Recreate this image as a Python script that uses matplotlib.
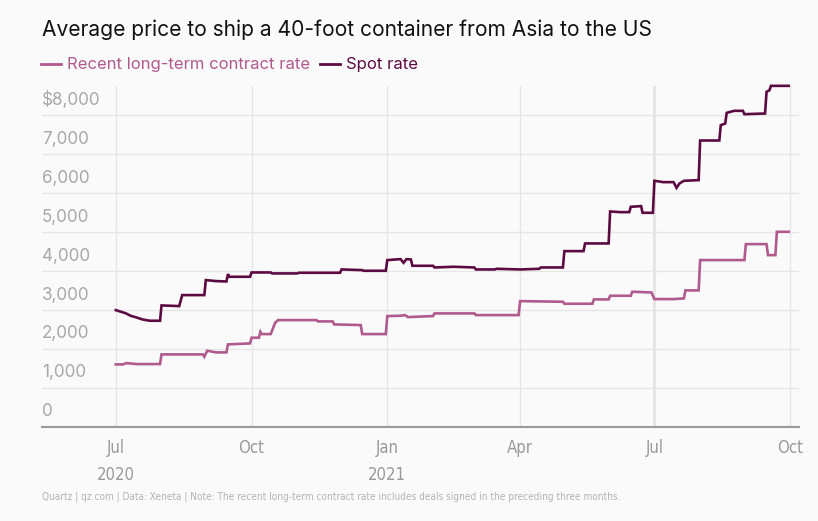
import datetime as dt

import matplotlib
matplotlib.use("Agg")
import matplotlib.dates as mdates
import matplotlib.pyplot as plt
from matplotlib import font_manager
from matplotlib.font_manager import FontProperties
from matplotlib.lines import Line2D

# Spot rate, USD per 40-foot container
spot_dates = [
    "2020-07-01", "2020-07-08", "2020-07-11", "2020-07-15", "2020-07-19", "2020-07-24",
    "2020-07-31", "2020-08-01", "2020-08-13", "2020-08-15", "2020-08-30", "2020-08-31",
    "2020-09-07", "2020-09-14", "2020-09-15", "2020-09-16", "2020-09-30", "2020-10-01",
    "2020-10-14", "2020-10-15", "2020-11-01", "2020-11-02", "2020-11-30", "2020-12-01",
    "2020-12-15", "2020-12-16", "2020-12-31", "2021-01-01", "2021-01-10", "2021-01-12",
    "2021-01-14", "2021-01-17", "2021-01-18", "2021-02-01", "2021-02-02", "2021-02-15",
    "2021-03-01", "2021-03-02", "2021-03-15", "2021-03-16", "2021-04-01", "2021-04-14",
    "2021-04-15", "2021-04-30", "2021-05-01", "2021-05-14", "2021-05-15", "2021-05-31",
    "2021-06-01", "2021-06-08", "2021-06-14", "2021-06-15", "2021-06-22", "2021-06-23",
    "2021-06-30", "2021-07-01", "2021-07-07", "2021-07-14", "2021-07-16", "2021-07-18",
    "2021-07-21", "2021-07-31", "2021-08-01", "2021-08-14", "2021-08-15", "2021-08-18",
    "2021-08-19", "2021-08-24", "2021-08-30", "2021-08-31", "2021-09-14", "2021-09-15",
    "2021-09-17", "2021-09-18", "2021-09-30",
]
spot_values = [
    2991, 2906, 2846, 2803, 2752, 2718,
    2718, 3111, 3094, 3376, 3376, 3761,
    3735, 3726, 3915, 3846, 3846, 3957,
    3957, 3932, 3932, 3949, 3949, 4034,
    4017, 4000, 4000, 4274, 4299, 4205,
    4299, 4290, 4128, 4128, 4085, 4103,
    4085, 4034, 4034, 4051, 4034, 4051,
    4085, 4085, 4504, 4504, 4701, 4701,
    5521, 5504, 5504, 5641, 5658, 5487,
    5487, 6308, 6274, 6274, 6128, 6239,
    6308, 6325, 7342, 7342, 7735, 7778,
    8051, 8103, 8103, 8017, 8034, 8590,
    8632, 8744, 8744,
]

# Recent long-term contract rate
contract_dates = [
    "2020-07-01", "2020-07-06", "2020-07-08", "2020-07-15", "2020-07-31", "2020-08-01",
    "2020-08-29", "2020-08-30", "2020-09-01", "2020-09-07", "2020-09-14", "2020-09-15",
    "2020-09-30", "2020-10-01", "2020-10-06", "2020-10-07", "2020-10-08", "2020-10-14",
    "2020-10-17", "2020-10-19", "2020-11-14", "2020-11-15", "2020-11-25", "2020-11-26",
    "2020-12-14", "2020-12-15", "2020-12-31", "2021-01-01", "2021-01-10", "2021-01-13",
    "2021-01-15", "2021-02-01", "2021-02-02", "2021-03-01", "2021-03-02", "2021-03-31",
    "2021-04-01", "2021-04-30", "2021-05-01", "2021-05-20", "2021-05-21", "2021-05-31",
    "2021-06-01", "2021-06-15", "2021-06-16", "2021-06-29", "2021-07-01", "2021-07-14",
    "2021-07-21", "2021-07-22", "2021-07-31", "2021-08-01", "2021-08-31", "2021-09-01",
    "2021-09-15", "2021-09-16", "2021-09-21", "2021-09-22", "2021-09-30",
]
contract_values = [
    1598, 1598, 1632, 1607, 1607, 1855,
    1855, 1795, 1949, 1906, 1906, 2111,
    2137, 2282, 2282, 2436, 2376, 2376,
    2667, 2735, 2735, 2701, 2701, 2624,
    2607, 2376, 2376, 2838, 2846, 2863,
    2812, 2838, 2906, 2906, 2863, 2863,
    3222, 3205, 3154, 3154, 3265, 3265,
    3359, 3359, 3462, 3444, 3274, 3274,
    3291, 3496, 3496, 4274, 4274, 4684,
    4684, 4402, 4402, 5000, 5000,
]

y_ticks = [0, 1000, 2000, 3000, 4000, 5000, 6000, 7000, 8000]
y_labels = ["0", "1,000", "2,000", "3,000", "4,000", "5,000", "6,000", "7,000", "$8,000"]
x_ticks = ["2020-07-01", "2020-10-01", "2021-01-01", "2021-04-01", "2021-07-01", "2021-10-01"]
x_labels = ["Jul\n2020", "Oct", "Jan\n2021", "Apr", "Jul", "Oct"]

CONTRACT_COLOR = "#b05a8e"
SPOT_COLOR = "#5c0a42"
BG = "#fafafa"


def to_dates(items):
    return [dt.datetime.strptime(s, "%Y-%m-%d") for s in items]


# a condensed face, if one is installed, for the tick labels and the footer
condensed = None
for f in font_manager.fontManager.ttflist:
    if ("Condensed" in f.fname or "Narrow" in f.fname) and "Bold" not in f.fname \
            and "Oblique" not in f.fname and "Italic" not in f.fname:
        condensed = f.fname
        break


def narrow_font(size):
    if condensed:
        return FontProperties(fname=condensed, size=size)
    return FontProperties(family="Roboto", size=size * 0.9)


plt.rcParams["font.family"] = ["Inter", "DejaVu Sans"]

fig = plt.figure(figsize=(8.18, 5.21), dpi=100, facecolor=BG)
ax = fig.add_axes([42 / 818, 94.3 / 521, 757 / 818, 340.7 / 521], facecolor=BG)

ax.plot(to_dates(contract_dates), contract_values, color=CONTRACT_COLOR, lw=1.9,
        solid_joinstyle="miter", clip_on=False, zorder=3)
ax.plot(to_dates(spot_dates), spot_values, color=SPOT_COLOR, lw=1.9,
        solid_joinstyle="miter", clip_on=False, zorder=4)

ax.set_xlim(dt.datetime(2020, 5, 12), dt.datetime(2021, 10, 7))
ax.set_ylim(0, 8740)

# gridlines
for v in y_ticks[1:]:
    ax.axhline(v, color="#e6e6e6", lw=1.0, zorder=1)
ax.axhline(0, color="#9a9a9a", lw=1.5, zorder=2, clip_on=False)
for i, d in enumerate(to_dates(x_ticks)):
    ax.axvline(d, color="#e6e6e6", lw=2.2 if i == 4 else 1.0, zorder=1)

for side in ax.spines.values():
    side.set_visible(False)

ax.set_yticks([])
for v, lab in zip(y_ticks, y_labels):
    ax.annotate(lab, xy=(0, v), xycoords=ax.get_yaxis_transform(),
                xytext=(0, 4.5), textcoords="offset points",
                ha="left", va="bottom", fontsize=12.3, color="#a8a8a8")

ax.set_xticks(mdates.date2num(to_dates(x_ticks)))
ax.set_xticklabels(x_labels, fontproperties=narrow_font(12), color="#9a9a9a",
                   linespacing=1.65, va="top")
ax.tick_params(axis="x", length=0, pad=9)

fig.text(42 / 818, 1 - 30 / 521, "Average price to ship a 40-foot container from Asia to the US",
         fontsize=15.1, color="#111111", ha="left", va="center")

handles = [Line2D([], [], color=CONTRACT_COLOR, lw=2),
           Line2D([], [], color=SPOT_COLOR, lw=2)]
fig.legend(handles, ["Recent long-term contract rate", "Spot rate"],
           loc="center left", bbox_to_anchor=(41 / 818, 1 - 65 / 521), ncol=2,
           frameon=False, fontsize=12, labelcolor="linecolor", handlelength=1.2,
           handletextpad=0.35, columnspacing=0.6, borderpad=0, borderaxespad=0)

fig.text(42 / 818, 1 - 497 / 521,
         "Quartz | qz.com | Data: Xeneta | Note: The recent long-term contract rate "
         "includes deals signed in the preceding three months.",
         fontproperties=narrow_font(7.2 if condensed else 7.0),
         color="#b3b3b3", ha="left", va="center")

fig.savefig("out.png", dpi=100, facecolor=BG)
